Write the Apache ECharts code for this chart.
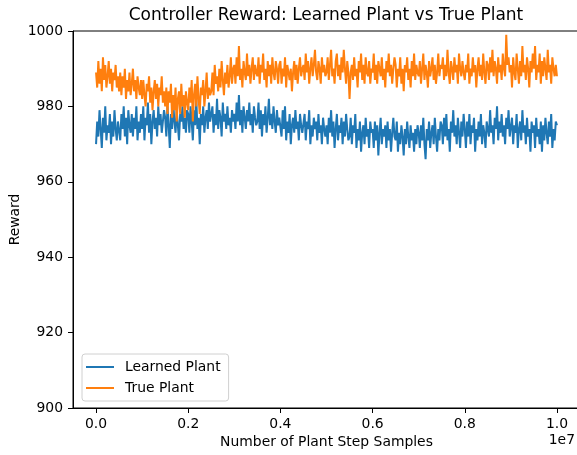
<!doctype html>
<html>
<head>
    <meta charset="utf-8">
    <title>Controller Reward</title>
    <script type="text/javascript" src="https://cdn.jsdelivr.net/npm/echarts@6/dist/echarts.min.js"></script>
    <style>
        html, body { margin: 0; padding: 0; background: #fff; }
        #container { width: 577px; height: 455px; }
    </style>
</head>
<body>
<div id="container"></div>
<script type="text/javascript">
    // reward per evaluation (x runs 0 .. 1e7 plant step samples)
    var trueReward = [
        989,985,992,986,990,984,993,987,991,985,988,992,986,990,984,989,987,991,985,988,
        984,989,983,988,985,990,982,987,984,989,983,986,990,984,987,982,988,985,983,987,
        982,987,983,980,986,984,988,981,985,979,984,987,982,986,980,985,983,988,981,984,
        980,985,978,984,981,986,977,983,979,985,976,982,984,978,986,980,983,977,984,981,
        979,985,981,987,976,983,986,980,988,982,978,985,983,987,980,984,989,982,985,983,
        984,989,983,991,986,988,984,990,985,992,987,983,989,986,991,985,988,993,986,990,
        991,986,993,988,996,987,990,985,992,989,987,994,988,991,986,990,993,987,991,989,
        988,993,986,991,989,994,987,990,985,992,988,991,986,993,989,987,992,990,986,991,
        992,986,990,988,993,985,991,989,987,990,984,989,992,987,991,986,990,993,988,990,
        991,987,994,989,992,986,990,993,988,991,995,989,987,992,990,986,993,989,991,988,
        989,993,987,991,995,988,990,986,992,994,988,991,987,993,989,995,990,986,992,989,
        982,989,991,987,993,988,990,985,992,989,994,987,991,986,993,989,988,992,986,990,
        989,994,987,991,986,992,990,988,993,987,990,985,992,989,994,988,991,986,990,993,
        991,985,990,988,993,986,990,984,991,989,993,987,990,985,992,988,994,987,991,989,
        988,992,986,990,994,987,991,989,985,992,988,990,993,987,991,986,989,994,988,991,
        990,993,987,991,988,995,989,986,992,990,987,993,989,991,986,994,990,988,992,989,
        987,991,989,994,986,990,988,993,989,991,985,990,993,988,991,987,994,989,986,992,
        991,987,993,989,995,988,992,990,986,993,989,991,987,994,990,988,999,991,993,989,
        991,985,993,989,987,994,990,986,992,988,996,989,991,987,993,990,985,992,989,994,
        990,996,987,991,989,994,986,992,988,993,990,987,995,989,991,986,993,990,988,991,
        988
    ];
    var learnedReward = [
        970,976,972,979,974,969,977,973,980,971,975,973,978,970,976,972,979,974,971,976,
        976,971,978,974,980,972,977,970,979,975,973,978,972,977,974,980,971,976,973,978,
        974,980,971,977,975,981,973,978,970,976,979,974,977,972,980,975,978,973,976,979,
        977,972,980,975,969,978,974,981,976,973,979,975,971,978,976,980,974,977,973,979,
        978,973,980,976,971,979,975,982,974,977,970,978,975,980,973,977,979,974,981,976,
        976,980,973,978,975,982,974,979,977,972,981,976,978,974,980,975,977,973,979,976,
        978,974,981,976,983,975,979,973,980,977,974,979,976,981,975,978,973,980,977,975,
        976,981,974,979,972,978,975,980,973,977,982,975,978,974,980,976,973,979,975,977,
        977,972,979,974,980,971,976,973,978,970,975,977,973,979,974,976,971,978,975,973,
        973,978,971,976,974,979,970,975,972,977,974,976,971,978,973,975,970,977,974,972,
        975,970,977,973,979,972,976,969,974,978,971,975,973,977,970,976,972,978,974,971,
        972,977,970,975,973,978,969,974,971,976,968,973,975,970,977,972,974,969,976,973,
        974,969,976,971,975,967,973,977,970,974,972,975,969,976,971,974,968,973,977,972,
        971,976,968,973,970,975,972,967,974,970,976,972,969,975,971,973,968,974,970,975,
        973,969,975,971,977,970,966,974,971,976,969,973,975,970,977,972,968,974,971,976,
        975,970,977,972,978,971,974,968,976,973,979,972,975,970,977,973,969,976,972,978,
        974,969,976,972,978,970,975,973,977,968,974,971,976,972,978,970,975,973,969,976,
        976,972,979,973,975,970,977,974,980,971,976,973,978,972,975,970,977,974,979,972,
        972,977,970,975,973,978,969,974,976,971,979,973,975,970,977,972,974,968,976,973,
        975,969,977,972,974,970,976,968,975,971,977,973,970,976,972,978,969,974,971,976,
        975
    ];
    var xTicks = [0, 0.2, 0.4, 0.6, 0.8, 1.0];
    var yTicks = [900, 920, 940, 960, 980, 1000];
    var seriesNames = ['Learned Plant', 'True Plant'];

    function toPoints(arr) {
        var out = [];
        for (var i = 0; i < arr.length; i++) {
            out.push([i / (arr.length - 1), arr[i]]);
        }
        return out;
    }

    var font = 'DejaVu Sans';
    var dom = document.getElementById('container');
    var myChart = echarts.init(dom, null, {renderer: 'canvas'});
    var option = {
        animation: false,
        backgroundColor: '#fff',
        title: {
            text: 'Controller Reward: Learned Plant vs True Plant',
            left: 326,
            top: 7,
            padding: 0,
            textAlign: 'center',
            textStyle: {fontFamily: font, fontSize: 17, fontWeight: 'normal', color: '#000'}
        },
        legend: {
            orient: 'vertical',
            left: 82,
            top: 354,
            padding: [6, 8, 6, 4],
            itemGap: 7,
            itemWidth: 28,
            itemHeight: 2,
            icon: 'rect',
            borderColor: '#d0d0d0',
            borderWidth: 1,
            borderRadius: 3,
            backgroundColor: 'rgba(255,255,255,0.8)',
            data: seriesNames,
            textStyle: {fontFamily: font, fontSize: 13.9, color: '#000', padding: [0, 0, 0, 6]}
        },
        grid: {left: 73, right: -3, top: 31, bottom: 47, containLabel: false, outerBoundsMode: 'none'},
        xAxis: {
            type: 'value',
            min: -0.05,
            max: 1.05,
            name: 'Number of Plant Step Samples',
            nameLocation: 'middle',
            nameGap: 27,
            nameMoveOverlap: false,
            nameTextStyle: {fontFamily: font, fontSize: 13.9, color: '#000'},
            splitLine: {show: false},
            axisLine: {show: true, onZero: false, lineStyle: {color: '#000', width: 1}},
            axisTick: {show: true, length: 5, lineStyle: {color: '#000'}, customValues: xTicks},
            axisLabel: {
                margin: 9, color: '#000', fontFamily: font, fontSize: 13.9,
                customValues: xTicks,
                formatter: function (v) { return v.toFixed(1); }
            }
        },
        yAxis: {
            type: 'value',
            min: 900,
            max: 1000,
            interval: 20,
            name: 'Reward',
            nameLocation: 'middle',
            nameGap: 51,
            nameRotate: 90,
            nameMoveOverlap: false,
            nameTextStyle: {fontFamily: font, fontSize: 13.9, color: '#000'},
            splitLine: {show: false},
            axisLine: {show: true, onZero: false, lineStyle: {color: '#000', width: 1}},
            axisTick: {show: true, length: 5, lineStyle: {color: '#000'}, customValues: yTicks},
            axisLabel: {
                margin: 10, color: '#000', fontFamily: font, fontSize: 13.9,
                customValues: yTicks,
                formatter: function (v) { return String(v); }
            }
        },
        graphic: [
            {
                type: 'rect',
                shape: {x: 73, y: 31, width: 507, height: 377},
                style: {fill: 'none', stroke: '#000', lineWidth: 1},
                silent: true
            },
            {
                type: 'text',
                right: 2,
                top: 433,
                style: {text: '1e7', fontFamily: font, fontSize: 13.9, fill: '#000'}
            }
        ],
        series: [
            {
                name: seriesNames[0],
                type: 'line',
                showSymbol: false,
                color: '#1f77b4',
                lineStyle: {width: 2},
                data: toPoints(learnedReward)
            },
            {
                name: seriesNames[1],
                type: 'line',
                showSymbol: false,
                color: '#ff7f0e',
                lineStyle: {width: 2},
                data: toPoints(trueReward)
            }
        ]
    };
    myChart.setOption(option);
</script>
</body>
</html>
